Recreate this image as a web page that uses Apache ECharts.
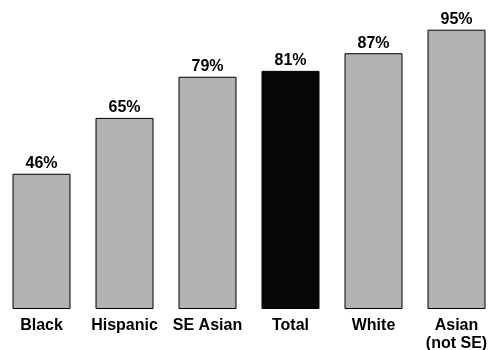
<!DOCTYPE html>
<html>
<head>
<meta charset="utf-8">
<script src="https://cdn.jsdelivr.net/npm/echarts@6/dist/echarts.min.js"></script>
<style>
    html, body { margin: 0; padding: 0; background: #fff; }
    #chart { width: 490px; height: 350px; }
</style>
</head>
<body>
<div id="chart"></div>
<script>
// groups and graduation rates (%)
var groups = ['Black', 'Hispanic', 'SE Asian', 'Total', 'White', 'Asian\n(not SE)'];
var rates = [46, 65, 79, 81, 87, 95];
var totalName = 'Total';

var chart = echarts.init(document.getElementById('chart'));

var barData = [];
for (var i = 0; i < groups.length; i++) {
    barData.push({
        value: rates[i],
        itemStyle: {
            color: groups[i] == totalName ? '#060606' : '#b2b2b2'
        }
    });
}

var option = {
    animation: false,
    grid: {
        left: 0,
        top: 15,
        right: -8,
        bottom: 41,
        outerBoundsMode: 'none'
    },
    xAxis: {
        type: 'category',
        data: groups,
        axisLine: {show: false},
        axisTick: {show: false},
        axisLabel: {
            margin: 8,
            color: '#000',
            fontFamily: 'Liberation Sans, Arial, sans-serif',
            fontWeight: 'bold',
            fontSize: 16,
            lineHeight: 18,
            interval: 0
        }
    },
    yAxis: {
        type: 'value',
        min: 0,
        max: 100,
        show: false
    },
    series: [{
        type: 'bar',
        barWidth: 58,
        data: barData,
        itemStyle: {
            borderColor: '#000',
            borderWidth: 1
        },
        label: {
            show: true,
            position: 'top',
            distance: 2,
            formatter: '{c}%',
            color: '#000',
            fontFamily: 'Liberation Sans, Arial, sans-serif',
            fontWeight: 'bold',
            fontSize: 16
        }
    }]
};
chart.setOption(option);
</script>
</body>
</html>
